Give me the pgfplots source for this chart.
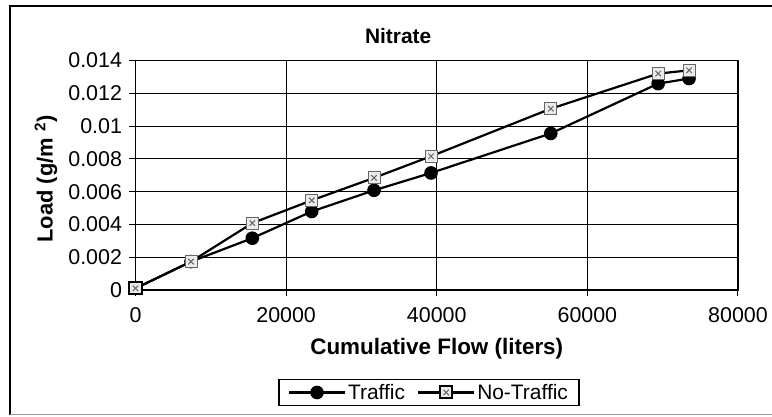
\documentclass[border=0pt]{standalone}
\usepackage{fontspec}
\setmainfont{Liberation Sans}
\usepackage{pgfplots}
\pgfplotsset{compat=1.18}
\pgfdeclareplotmark{sqx}{%
  \pgfpathrectangle{\pgfqpoint{-\pgfplotmarksize}{-\pgfplotmarksize}}{\pgfqpoint{2\pgfplotmarksize}{2\pgfplotmarksize}}%
  \pgfusepathqfillstroke
  \pgfsetlinewidth{1pt}%
  \pgfsetstrokecolor{black!60}%
  \pgfpathmoveto{\pgfqpoint{-0.45\pgfplotmarksize}{-0.45\pgfplotmarksize}}%
  \pgfpathlineto{\pgfqpoint{0.45\pgfplotmarksize}{0.45\pgfplotmarksize}}%
  \pgfpathmoveto{\pgfqpoint{-0.45\pgfplotmarksize}{0.45\pgfplotmarksize}}%
  \pgfpathlineto{\pgfqpoint{0.45\pgfplotmarksize}{-0.45\pgfplotmarksize}}%
  \pgfusepathqstroke
}
\begin{document}
\begin{tikzpicture}
\useasboundingbox (0,0) rectangle (772bp,417bp);
\draw[line width=1.6bp] (10bp,2bp) -- (10bp,411bp) -- (772bp,411bp);
\draw[line width=1bp, black!40] (10bp,2bp) -- (772bp,2bp);
\begin{axis}[
  at={(135.5bp,127bp)}, anchor=south west,
  scale only axis, width=602.5bp, height=229.5bp,
  xmin=0, xmax=80000, ymin=0, ymax=0.014,
  xtick={0,20000,40000,60000,80000},
  xticklabels={0,20000,40000,60000,80000},
  ytick={0,0.002,0.004,0.006,0.008,0.010,0.012,0.014},
  yticklabels={0,0.002,0.004,0.006,0.008,0.01,0.012,0.014},
  scaled x ticks=false, scaled y ticks=false,
  /pgf/number format/assume math mode=true,
  tick align=outside, xtick pos=bottom, ytick pos=left,
  major tick length=6bp,
  tick style={black, line width=1bp},
  grid=major,
  major grid style={black, line width=1.1bp},
  axis line style={black, line width=1.2bp},
  ticklabel style={font=\fontsize{21.5}{24}\selectfont},
  xticklabel style={yshift=-8bp},
  yticklabel style={xshift=-4bp},
  clip=false,
  title={Nitrate},
  title style={at={(axis description cs:0.436,1.0806)}, anchor=center, font=\bfseries\fontsize{21}{24}\selectfont},
  xlabel={Cumulative Flow (liters)},
  xlabel style={at={(axis description cs:0.5,-0.257)}, anchor=center, font=\bfseries\fontsize{22.5}{26}\selectfont},
  ylabel={Load (g/m \textsuperscript{2})},
  ylabel style={at={(axis description cs:-0.1486,0.4837)}, anchor=center, rotate=0, font=\bfseries\fontsize{22}{26}\selectfont},
  legend columns=2,
  legend style={at={(axis description cs:0.487,-0.4466)}, anchor=center,
    draw=black, line width=1.2bp, font=\fontsize{21}{23}\selectfont,
    inner xsep=9bp, inner ysep=3bp,
    /tikz/every even column/.append style={column sep=10bp}},
  legend image code/.code={\draw[mark repeat=2,mark phase=2,#1] plot coordinates {(0bp,0bp) (28bp,0bp) (56bp,0bp)};},
]
\addplot[black, line width=2.2bp, mark=*, mark size=6.3bp, mark options={fill=black, line width=1bp}]
 coordinates {(0,0.0001) (7370,0.00173) (15510,0.00316) (23400,0.00479) (31670,0.00608) (39240,0.00714) (55140,0.00955) (69400,0.01259) (73500,0.0129)};
\addlegendentry{Traffic}
\addplot[black, line width=2.2bp, mark=sqx, mark size=6bp, mark options={fill=black!8, draw=black, line width=2bp}]
 coordinates {(0,0.0001) (7370,0.00173) (15510,0.00408) (23400,0.00547) (31670,0.00684) (39240,0.00816) (55140,0.01106) (69400,0.0132) (73500,0.0134)};
\addlegendentry{No-Traffic}
\end{axis}
\end{tikzpicture}
\end{document}
